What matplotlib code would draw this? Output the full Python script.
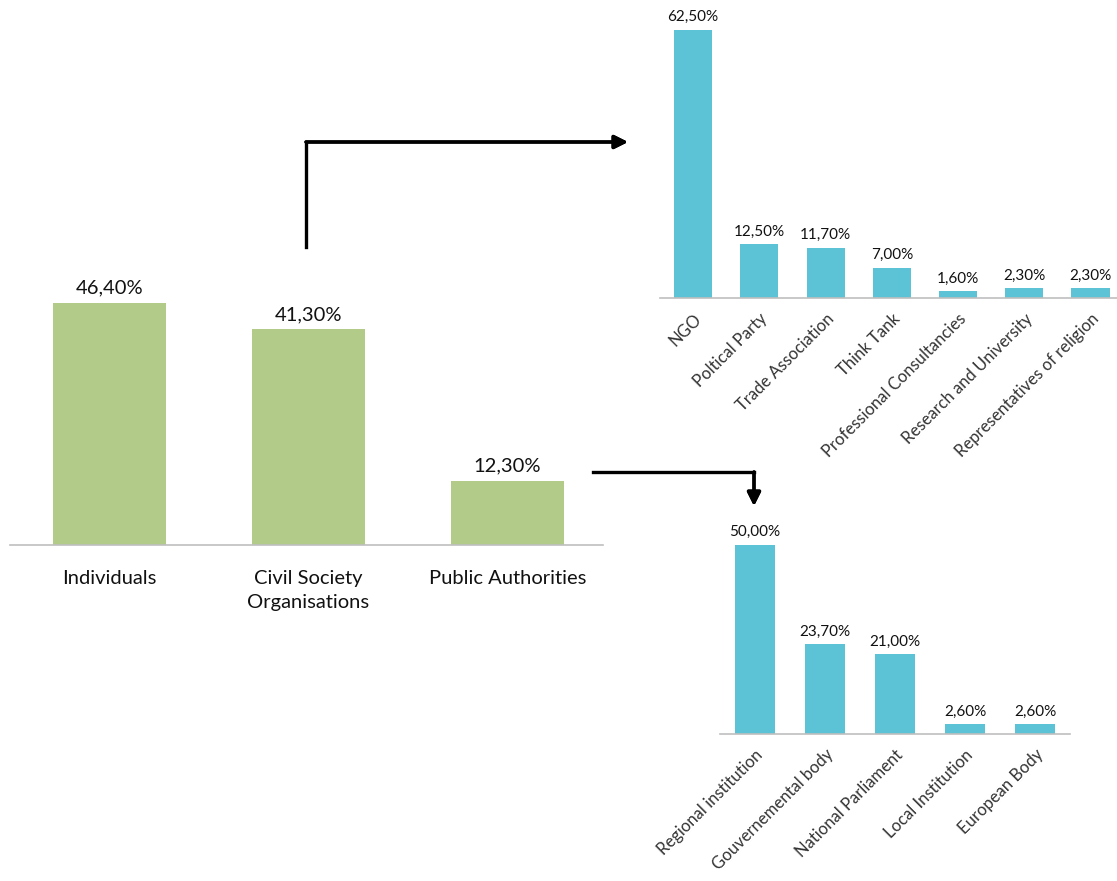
import matplotlib
matplotlib.use("Agg")
import matplotlib.pyplot as plt
from matplotlib.lines import Line2D

plt.rcParams["font.family"] = ["Lato", "DejaVu Sans"]

# ── Data ────────────────────────────────────────────────────────────────
main_labels = ["Individuals", "Civil Society\nOrganisations", "Public Authorities"]
main_values = [46.4, 41.3, 12.3]

cso_labels = ["NGO", "Poltical Party", "Trade Association", "Think Tank",
              "Professional Consultancies", "Research and University",
              "Representatives of religion"]
cso_values = [62.5, 12.5, 11.7, 7.0, 1.6, 2.3, 2.3]

pa_labels = ["Regional institution", "Gouvernemental body", "National Parliament",
             "Local Institution", "European Body"]
pa_values = [50.0, 23.7, 21.0, 2.6, 2.6]

GREEN = "#B3CB88"
BLUE = "#5CC2D6"
AXIS = "#BFBFBF"
TEXT = "#111111"

W, H = 1117, 881
fig = plt.figure(figsize=(W / 100, H / 100), dpi=100)


def fmt(v):
    return f"{v:.2f}%".replace(".", ",")


def px_axes(left, right, base, top):
    return fig.add_axes([left / W, (H - base) / H, (right - left) / W, (base - top) / H])


def style(ax):
    for s in ["top", "right", "left"]:
        ax.spines[s].set_visible(False)
    ax.spines["bottom"].set_color(AXIS)
    ax.spines["bottom"].set_linewidth(1.2)
    ax.set_yticks([])
    ax.tick_params(axis="x", length=0)


# ── Main chart ──────────────────────────────────────────────────────────
ax = px_axes(10, 603, 545, 284)
x = range(len(main_values))
ax.bar(x, main_values, width=0.57, color=GREEN)
ax.set_xlim(-0.5, 2.48)
ax.set_ylim(0, 50)
style(ax)
ax.set_xticks(list(x))
ax.set_xticklabels(main_labels, fontsize=14.5, color=TEXT, linespacing=1.5)
ax.tick_params(axis="x", pad=18)
for i, v in enumerate(main_values):
    ax.text(i, v + 1.2, fmt(v), ha="center", va="bottom", fontsize=14.5, color=TEXT)

# ── Civil Society breakdown ─────────────────────────────────────────────
ax2 = px_axes(660, 1117, 298, 19)
x2 = range(len(cso_values))
ax2.bar(x2, cso_values, width=0.575, color=BLUE)
ax2.set_xlim(-0.5, 6.4)
ax2.set_ylim(0, 65)
style(ax2)
ax2.set_xticks(list(x2))
ax2.set_xticklabels(cso_labels, rotation=45, ha="right", rotation_mode="anchor",
                    fontsize=12, color="#333333")
ax2.tick_params(axis="x", pad=9)
for i, v in enumerate(cso_values):
    ax2.text(i, v + 1.3, fmt(v), ha="center", va="bottom", fontsize=11, color=TEXT)

# ── Public Authorities breakdown ────────────────────────────────────────
ax3 = px_axes(720, 1070, 734, 537)
x3 = range(len(pa_values))
ax3.bar(x3, pa_values, width=0.56, color=BLUE)
ax3.set_xlim(-0.5, 4.5)
ax3.set_ylim(0, 52)
style(ax3)
ax3.set_xticks(list(x3))
ax3.set_xticklabels(pa_labels, rotation=45, ha="right", rotation_mode="anchor",
                    fontsize=12, color="#333333")
ax3.tick_params(axis="x", pad=9)
for i, v in enumerate(pa_values):
    ax3.text(i, v + 1.5, fmt(v), ha="center", va="bottom", fontsize=11, color=TEXT)

# ── Connector arrows (figure pixels) ────────────────────────────────────
fig.add_artist(Line2D([306 / W, 306 / W], [(H - 247) / H, (H - 142) / H],
                      transform=fig.transFigure, color="black", lw=2.4,
                      solid_capstyle="projecting"))
fig.add_artist(Line2D([593 / W, 754 / W], [(H - 472) / H, (H - 472) / H],
                      transform=fig.transFigure, color="black", lw=2.4,
                      solid_capstyle="projecting"))
arrow = dict(arrowstyle="-|>", lw=2.4, color="black", mutation_scale=20,
             shrinkA=0, shrinkB=0)
fig.add_artist(plt.annotate("", xy=(628 / W, (H - 142) / H), xytext=(306 / W, (H - 142) / H),
                            xycoords="figure fraction", arrowprops=arrow))
fig.add_artist(plt.annotate("", xy=(754 / W, (H - 506) / H), xytext=(754 / W, (H - 472) / H),
                            xycoords="figure fraction", arrowprops=arrow))

fig.savefig("out.png", dpi=100)
